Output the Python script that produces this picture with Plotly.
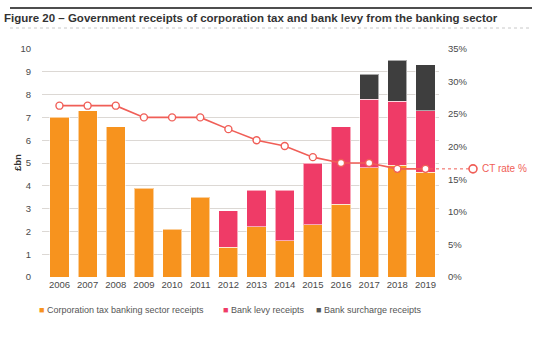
import plotly.graph_objects as go

# Receipts from the banking sector, £bn
years = ["2006", "2007", "2008", "2009", "2010", "2011", "2012",
         "2013", "2014", "2015", "2016", "2017", "2018", "2019"]
corp_tax = [7.0, 7.3, 6.6, 3.9, 2.1, 3.5, 1.3, 2.2, 1.6, 2.3, 3.2, 4.8, 4.9, 4.6]
bank_levy = [None, None, None, None, None, None, 1.6, 1.6, 2.2, 2.7, 3.4, 3.0, 2.8, 2.7]
surcharge = [None, None, None, None, None, None, None, None, None, None, None, 1.1, 1.8, 2.0]
# Corporation tax rate, %
ct_rate = [26.3, 26.3, 26.3, 24.5, 24.5, 24.5, 22.7, 21.0, 20.1, 18.4, 17.5, 17.5, 16.6, 16.6]

left_ticks = list(range(0, 11))
right_ticks = list(range(0, 40, 5))
right_labels = [f"{v}%" for v in right_ticks]

ORANGE = "#F7931E"
PINK = "#EF3B67"
DARK = "#3E3E3E"
LINE_RED = "#F05E57"
GRID = "#DCD8D4"
TEXT = "#4A4A4A"
FONT = "Liberation Sans, Arial, sans-serif"

# plot-area geometry (pixels in a 550x337 page)
W, H = 550, 337
L, R, T, B = 42, 439, 49, 277
XR = [-0.62, 13.48]


def px_x(px):
    return (px - L) / (R - L)


def px_y(py):
    return (B - py) / (B - T)


idx = list(range(len(years)))
bar_line = dict(color="rgba(255,255,255,0.55)", width=1)

fig = go.Figure()
fig.add_trace(go.Bar(x=idx, y=corp_tax, name="Corporation tax banking sector receipts",
                     marker=dict(color=ORANGE, line=bar_line), width=0.68))
fig.add_trace(go.Bar(x=idx, y=bank_levy, name="Bank levy receipts",
                     marker=dict(color=PINK, line=bar_line), width=0.68))
fig.add_trace(go.Bar(x=idx, y=surcharge, name="Bank surcharge receipts",
                     marker=dict(color=DARK, line=bar_line), width=0.68))
fig.add_trace(go.Scatter(x=idx, y=ct_rate, yaxis="y2", mode="lines+markers",
                         name="CT rate %",
                         line=dict(color=LINE_RED, width=1.6),
                         marker=dict(symbol="circle", size=7, color="white",
                                     line=dict(color=LINE_RED, width=1.4))))

annotations = [
    dict(text="<b>£bn</b>", textangle=-90, x=px_x(17), y=px_y(163), xref="paper", yref="paper",
         xanchor="center", yanchor="middle", showarrow=False,
         font=dict(family=FONT, size=9.5, color="#333333")),
    dict(text="CT rate %", x=px_x(480), y=ct_rate[-1], xref="paper", yref="y2",
         xanchor="left", yanchor="middle", showarrow=False,
         font=dict(family=FONT, size=10, color=LINE_RED)),
]

legend_items = [
    ("Corporation tax banking sector receipts", ORANGE, 37),
    ("Bank levy receipts", PINK, 221),
    ("Bank surcharge receipts", "#555555", 314),
]
for label, col, x0 in legend_items:
    annotations.append(dict(
        text=f"<span style='color:{col}'>■</span> {label}",
        x=px_x(x0), y=px_y(310), xref="paper", yref="paper",
        xanchor="left", yanchor="middle", showarrow=False,
        font=dict(family=FONT, size=9, color="#555555")))

shapes = [
    dict(type="line", xref="paper", yref="paper", x0=px_x(10), x1=px_x(532),
         y0=px_y(8), y1=px_y(8), line=dict(color="#4D4D4D", width=2)),
    dict(type="line", xref="paper", yref="paper", x0=px_x(10), x1=px_x(532),
         y0=px_y(28), y1=px_y(28), line=dict(color="#C8C8C8", width=1, dash="dot")),
    dict(type="line", xref="paper", yref="y2", x0=px_x(430), x1=px_x(469),
         y0=ct_rate[-1], y1=ct_rate[-1], line=dict(color=LINE_RED, width=1, dash="dot")),
    # open circle marking the line label
    dict(type="circle", xref="paper", yref="y2", xsizemode="pixel", ysizemode="pixel",
         xanchor=px_x(473), yanchor=ct_rate[-1], x0=-4, x1=4, y0=-4, y1=4,
         fillcolor="white", line=dict(color=LINE_RED, width=1.6)),
]

fig.update_layout(
    width=W, height=H,
    margin=dict(l=L, r=W - R, t=T, b=H - B, pad=0),
    barmode="stack",
    bargap=0.32,
    plot_bgcolor="white", paper_bgcolor="white",
    showlegend=False,
    font=dict(family=FONT, color=TEXT),
    title=dict(text="<b>Figure 20 – Government receipts of corporation tax and bank levy from the banking sector</b>",
               x=4 / W, xanchor="left", y=1 - 18 / H, yanchor="middle",
               font=dict(family=FONT, size=11.5, color="#333333")),
    xaxis=dict(range=XR, tickmode="array", tickvals=idx, ticktext=years,
               showgrid=False, zeroline=False, showline=False, ticks="",
               tickfont=dict(size=9.5, color=TEXT)),
    yaxis=dict(range=[0, 10], tickmode="array", tickvals=left_ticks,
               showgrid=True, gridcolor=GRID, gridwidth=1, zeroline=False,
               showline=False, ticks="outside", ticklen=8, tickcolor="white",
               tickfont=dict(size=9.5, color=TEXT)),
    yaxis2=dict(range=[0, 35], overlaying="y", side="right", tickmode="array",
                tickvals=right_ticks, ticktext=right_labels, showgrid=False,
                zeroline=False, showline=False, ticks="outside", ticklen=6,
                tickcolor="white", tickfont=dict(size=9.5, color=TEXT)),
    annotations=annotations,
    shapes=shapes,
)

fig.write_html("out.html")
